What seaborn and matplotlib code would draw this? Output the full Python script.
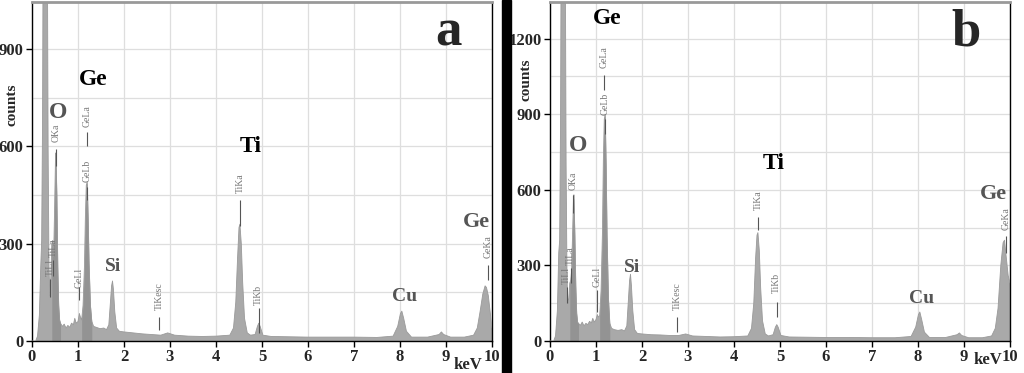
import numpy as np
import matplotlib
matplotlib.use('Agg')
import matplotlib.pyplot as plt
from matplotlib.ticker import MultipleLocator
import seaborn as sns

# energy grid (keV) shared by both spectra
energy = np.array([0.00, 0.08, 0.12, 0.16, 0.19, 0.21, 0.23, 0.25, 0.28, 0.31, 0.33, 0.35, 0.37, 0.39,
                   0.41, 0.43, 0.45, 0.47, 0.49, 0.51, 0.52, 0.54, 0.56, 0.58, 0.60, 0.62, 0.66, 0.70,
                   0.74, 0.78, 0.82, 0.86, 0.90, 0.93, 0.96, 1.00, 1.03, 1.05, 1.08, 1.11, 1.14, 1.16,
                   1.18, 1.20, 1.22, 1.24, 1.27, 1.30, 1.34, 1.40, 1.48, 1.56, 1.62, 1.67, 1.70, 1.73,
                   1.75, 1.77, 1.80, 1.84, 1.90, 2.00, 2.20, 2.40, 2.60, 2.80, 2.95, 3.10, 3.40, 3.70,
                   4.00, 4.30, 4.38, 4.43, 4.47, 4.50, 4.52, 4.55, 4.58, 4.62, 4.68, 4.75, 4.85, 4.90,
                   4.93, 4.96, 5.02, 5.20, 5.60, 6.00, 6.50, 7.00, 7.50, 7.85, 7.95, 8.01, 8.04, 8.08,
                   8.14, 8.25, 8.60, 8.85, 8.90, 8.95, 9.10, 9.40, 9.60, 9.68, 9.74, 9.80, 9.85, 9.88,
                   9.92, 9.96, 10.0])

counts_a = np.array([0, 0, 15, 80, 230, 310, 700, 1600, 2200, 2000, 1400, 600, 220, 140,
                     200, 300, 310, 260, 400, 560, 580, 450, 230, 110, 65, 55, 45, 52,
                     40, 48, 42, 55, 50, 70, 55, 60, 85, 75, 65, 110, 230, 380,
                     480, 490, 380, 240, 110, 60, 45, 42, 38, 40, 35, 50, 110, 170,
                     185, 160, 90, 40, 30, 28, 25, 22, 20, 18, 25, 18, 15, 14,
                     15, 18, 40, 120, 260, 350, 360, 300, 180, 70, 25, 18, 20, 45,
                     55, 45, 18, 14, 13, 12, 12, 12, 11, 15, 45, 85, 92, 70,
                     30, 12, 12, 20, 28, 20, 12, 12, 18, 40, 90, 145, 170, 165,
                     140, 90, 40])

counts_b = np.array([0, 0, 20, 120, 350, 400, 900, 2000, 2600, 2400, 1700, 700, 250, 150,
                     170, 230, 240, 280, 420, 560, 580, 420, 220, 110, 75, 70, 62, 75,
                     60, 70, 65, 78, 72, 90, 75, 85, 105, 95, 100, 200, 430, 720,
                     880, 900, 700, 420, 170, 70, 50, 45, 42, 45, 40, 60, 150, 240,
                     265, 220, 120, 45, 30, 28, 25, 24, 22, 22, 28, 20, 18, 16,
                     17, 20, 50, 150, 330, 420, 430, 360, 210, 80, 28, 20, 25, 55,
                     65, 55, 22, 16, 15, 14, 14, 13, 13, 18, 55, 105, 115, 85,
                     35, 14, 14, 25, 32, 22, 13, 13, 20, 50, 130, 300, 390, 400,
                     330, 260, 230])

# element labels: text, energy, counts, colour
elements_a = [('O', 0.57, 705, '#555555', 17), ('Ge', 1.33, 805, 'black', 17),
              ('Ti', 4.76, 600, 'black', 17), ('Si', 1.77, 229, '#555555', 14),
              ('Cu', 8.1, 137, '#555555', 14), ('Ge', 9.67, 366, '#555555', 16)]
elements_b = [('O', 0.6, 775, '#555555', 17), ('Ge', 1.25, 1280, 'black', 17),
              ('Ti', 4.87, 705, 'black', 17), ('Si', 1.78, 290, '#555555', 14),
              ('Cu', 8.07, 167, '#555555', 14), ('Ge', 9.65, 584, '#555555', 16)]

# line markers: name, energy, text bottom, marker bottom, marker top
lines_a = [('OKa', 0.52, 612, 540, 592), ('GeLa', 1.19, 660, 600, 643),
           ('GeLb', 1.20, 490, 436, 476), ('GeLl', 1.03, 164, 127, 167),
           ('TiLl', 0.39, 200, 137, 190), ('TiLa', 0.46, 260, 200, 250),
           ('TiKesc', 2.77, 96, 34, 74), ('TiKa', 4.52, 457, 353, 436),
           ('TiKb', 4.93, 111, 25, 102), ('GeKa', 9.92, 256, 188, 235)]
lines_b = [('OKa', 0.5, 600, 508, 580), ('GeLa', 1.18, 1085, 997, 1057),
           ('GeLb', 1.2, 898, 820, 880), ('GeLl', 1.03, 215, 115, 203),
           ('TiLl', 0.36, 225, 150, 215), ('TiLa', 0.45, 300, 230, 290),
           ('TiKesc', 2.77, 123, 36, 95), ('TiKa', 4.52, 520, 441, 493),
           ('TiKb', 4.93, 190, 95, 155), ('GeKa', 9.91, 441, 350, 417)]

sns.set_theme(style='white')
plt.rcParams['font.family'] = ['Liberation Serif', 'DejaVu Serif']

fig = plt.figure(figsize=(10.24, 3.73), dpi=100)
ax_a = fig.add_axes([32 / 1024, 32 / 373, 460 / 1024, 339 / 373])
ax_b = fig.add_axes([550 / 1024, 32 / 373, 460 / 1024, 339 / 373])


def draw_panel(ax, counts, ymax, elements, lines, letter):
    ax.set_axisbelow(True)
    ax.fill_between(energy, counts, color='#a9a9a9', lw=0, zorder=2)
    for lo, hi in [(0.43, 0.62), (1.08, 1.30)]:
        m = (energy >= lo) & (energy <= hi)
        ax.fill_between(energy[m], counts[m], color='#939393', lw=0, zorder=2)
    sns.lineplot(x=energy, y=counts, ax=ax, color='#9a9a9a', lw=0.6,
                 sort=False, estimator=None, zorder=3)

    ax.set_xlim(0, 10)
    ax.set_ylim(0, ymax)
    ax.xaxis.set_major_locator(MultipleLocator(1))
    ax.yaxis.set_major_locator(MultipleLocator(300))
    ax.yaxis.set_minor_locator(MultipleLocator(150))
    ax.grid(which='both', color='#dedede', lw=0.9)
    ax.tick_params(axis='both', which='major', direction='out', length=4, width=1,
                   color='black', labelsize=12, pad=2, bottom=True, left=True)
    ax.tick_params(axis='y', which='minor', length=0)
    for lab in ax.get_xticklabels() + ax.get_yticklabels():
        lab.set_fontweight('bold')
    ax.set_xlabel('')
    ax.set_ylabel('')

    for side in ['left', 'right', 'bottom']:
        ax.spines[side].set_color('black')
        ax.spines[side].set_linewidth(1)
    ax.spines['top'].set_color('#999999')
    ax.spines['top'].set_linewidth(2)

    for txt, x, y, col, size in elements:
        ax.text(x, y, txt, color=col, fontsize=size, fontweight='bold',
                ha='center', va='center', zorder=5)
    for name, x, ty, y0, y1 in lines:
        ax.text(x, ty, name, rotation=90, fontsize=7, color='#777777',
                ha='center', va='bottom', zorder=5)
        ax.vlines(x, y0, y1, color='#555555', lw=0.8, zorder=5)
    ax.text(0.905, 0.91, letter, transform=ax.transAxes, fontsize=38,
            fontweight='bold', ha='center', va='center', zorder=5)


draw_panel(ax_a, counts_a, 1045, elements_a, lines_a, 'a')
draw_panel(ax_b, counts_b, 1345, elements_b, lines_b, 'b')

fig.text(12 / 1024, 1 - 105 / 373, 'counts', rotation=90, fontsize=11,
         fontweight='bold', ha='center', va='center')
fig.text(526 / 1024, 1 - 80 / 373, 'counts', rotation=90, fontsize=11,
         fontweight='bold', ha='center', va='center')
fig.text(468 / 1024, 1 - 365 / 373, 'keV', fontsize=12, fontweight='bold',
         ha='center', va='center')
fig.text(988 / 1024, 1 - 360 / 373, 'keV', fontsize=12, fontweight='bold',
         ha='center', va='center')

fig.add_artist(plt.Rectangle((502 / 1024, 0), 9 / 1024, 1, transform=fig.transFigure,
                             color='black', zorder=10))

fig.savefig('out.png', dpi=100)
